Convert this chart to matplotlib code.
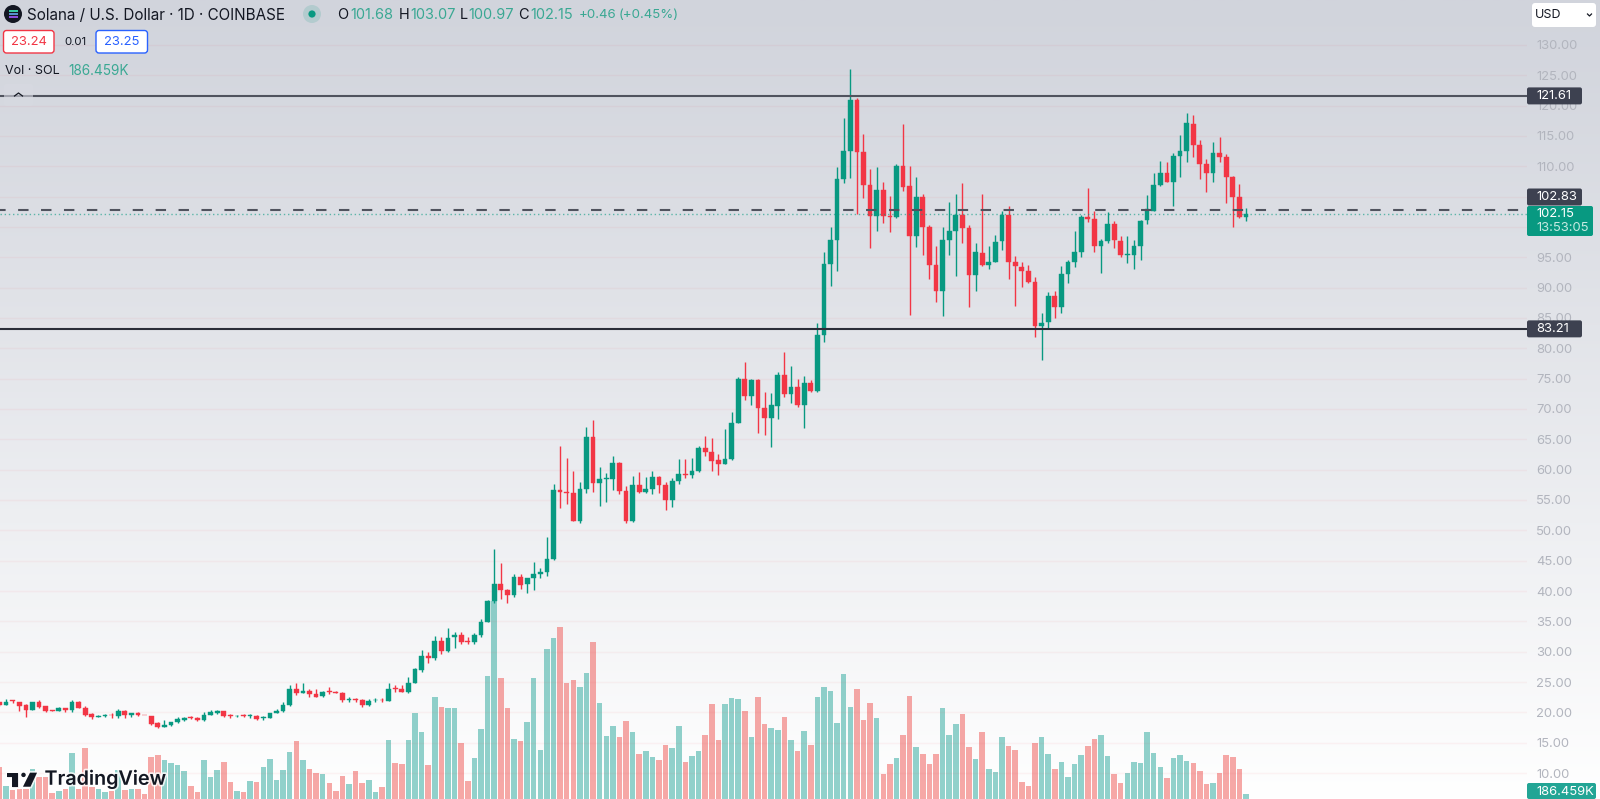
import matplotlib
matplotlib.use('Agg')
import matplotlib.pyplot as plt
import matplotlib.patches as patches
import matplotlib.patheffects as path_effects
import numpy as np

## Daily candles, oldest first.
opens = [
  21.65, 21.21, 21.98, 21.76, 21.16, 20.39, 21.71, 20.99, 20.39, 20.28,
  20.72, 20.39, 21.76, 20.77, 19.67, 19.23, 19.40, 19.62, 19.40, 20.17,
  19.51, 19.84, 19.62, 19.40, 18.19, 17.64, 17.86, 18.35, 18.79, 19.23,
  19.07, 18.79, 19.56, 19.95, 20.22, 19.51, 19.40, 19.51, 19.40, 19.34,
  19.07, 19.07, 19.95, 20.17, 21.27, 23.79, 23.19, 23.57, 23.02, 22.64,
  23.46, 23.41, 23.19, 21.98, 22.20, 21.98, 21.21, 21.98, 22.09, 21.87,
  24.07, 23.85, 23.35, 24.89, 26.98, 29.29, 28.90, 31.76, 30.06, 32.37,
  32.70, 31.82, 31.60, 32.70, 34.89, 38.30, 41.10, 40.17, 39.40, 42.37,
  41.16, 42.09, 42.86, 43.14, 45.30, 56.60, 56.38, 56.16, 51.54, 56.76,
  65.44, 57.75, 58.52, 58.47, 61.05, 56.54, 51.54, 57.53, 56.38, 56.82,
  58.74, 57.53, 55.00, 58.14, 59.35, 59.18, 59.73, 63.63, 62.97, 61.60,
  60.94, 61.71, 67.75, 74.90, 72.20, 74.84, 70.10, 68.47, 70.56, 75.67,
  72.42, 73.58, 70.66, 74.35, 73.00, 82.14, 93.85, 97.86, 107.86, 112.53,
  120.94, 112.42, 106.87, 101.81, 106.10, 101.81, 101.59, 110.00, 106.76, 98.46,
  104.95, 99.95, 93.74, 89.45, 97.91, 99.28, 101.98, 99.83, 92.03, 95.77,
  93.74, 94.23, 97.69, 101.98, 94.23, 93.46, 92.75, 90.98, 83.62, 84.28,
  88.67, 86.75, 92.19, 94.17, 95.87, 101.59, 101.26, 96.81, 97.69, 100.43,
  97.69, 95.43, 95.38, 96.81, 101.09, 102.69, 106.86, 108.90, 107.41, 111.64,
  112.52, 117.03, 113.57, 110.38, 108.90, 112.14, 111.53, 108.29, 104.94, 101.68,
]
highs = [
  21.75, 22.15, 22.09, 21.76, 21.38, 21.76, 22.03, 21.05, 20.42, 20.88,
  20.77, 22.03, 21.93, 20.99, 19.89, 19.62, 19.67, 19.95, 20.61, 20.39,
  19.95, 20.11, 19.62, 19.40, 18.41, 18.68, 18.46, 19.18, 19.29, 19.45,
  19.18, 20.06, 20.39, 20.44, 20.28, 19.73, 19.62, 19.73, 19.78, 19.56,
  19.45, 19.95, 20.50, 21.76, 24.56, 24.78, 24.78, 23.90, 23.90, 23.57,
  24.12, 23.57, 23.30, 22.47, 22.42, 22.14, 22.20, 22.31, 22.31, 24.78,
  24.51, 24.45, 25.77, 27.31, 30.28, 30.00, 32.59, 32.48, 33.90, 33.25,
  33.25, 32.48, 33.14, 35.33, 38.52, 46.93, 44.62, 40.28, 42.81, 42.81,
  42.20, 44.73, 43.80, 48.85, 57.70, 63.96, 61.87, 59.84, 57.92, 67.09,
  68.19, 60.50, 59.40, 62.26, 61.32, 57.37, 58.96, 59.62, 58.74, 59.78,
  59.02, 58.03, 58.69, 61.76, 61.71, 61.93, 63.91, 65.55, 65.22, 62.59,
  66.65, 69.46, 75.23, 77.75, 74.90, 74.95, 72.86, 72.64, 76.10, 79.35,
  77.15, 74.95, 75.45, 74.80, 84.12, 95.93, 99.95, 109.95, 117.91, 125.99,
  121.32, 115.28, 109.56, 109.95, 107.36, 105.11, 110.39, 116.92, 110.06, 108.19,
  105.38, 100.33, 96.87, 99.95, 104.07, 105.38, 107.25, 100.33, 97.42, 105.38,
  96.87, 98.68, 102.64, 103.46, 95.27, 94.18, 93.73, 91.81, 85.76, 89.33,
  89.50, 93.62, 94.55, 99.39, 101.97, 106.37, 102.63, 97.96, 102.47, 101.04,
  98.51, 98.51, 97.85, 101.10, 105.21, 108.84, 110.93, 110.71, 112.14, 115.16,
  118.73, 118.46, 114.28, 111.15, 113.95, 114.83, 112.03, 108.40, 107.03, 103.07,
]
lows = [
  21.10, 21.20, 21.60, 20.28, 19.29, 20.33, 20.66, 20.00, 20.25, 20.22,
  20.00, 20.06, 20.66, 19.45, 18.96, 19.18, 19.23, 19.12, 19.12, 19.12,
  19.29, 19.34, 19.51, 17.91, 17.36, 17.58, 17.69, 18.24, 18.63, 18.85,
  18.63, 18.63, 19.51, 19.78, 19.18, 19.12, 19.18, 19.23, 19.01, 18.79,
  18.79, 19.01, 19.89, 20.06, 21.05, 22.86, 23.13, 22.58, 22.53, 22.58,
  23.02, 23.13, 21.65, 21.76, 21.65, 20.94, 21.10, 21.76, 21.76, 21.81,
  23.41, 23.30, 23.13, 24.78, 26.60, 28.19, 28.68, 29.56, 30.00, 30.66,
  31.27, 31.32, 31.32, 32.48, 34.84, 37.97, 38.63, 38.03, 38.96, 40.28,
  39.62, 40.11, 42.20, 42.47, 45.10, 53.63, 54.40, 51.54, 51.27, 56.21,
  56.38, 54.07, 54.73, 56.65, 56.00, 51.27, 51.43, 56.10, 56.16, 55.94,
  56.10, 53.36, 53.85, 57.64, 58.63, 58.63, 59.67, 62.26, 59.78, 59.13,
  60.88, 61.60, 67.70, 71.50, 70.61, 66.00, 65.72, 63.69, 68.30, 71.93,
  71.05, 70.39, 66.93, 72.80, 72.80, 81.10, 90.27, 92.80, 107.31, 108.02,
  102.09, 104.73, 96.59, 99.34, 100.71, 99.23, 101.54, 105.99, 85.49, 96.76,
  95.38, 91.48, 87.64, 85.38, 95.38, 91.98, 97.42, 86.76, 89.45, 93.63,
  93.08, 94.18, 96.20, 91.37, 86.98, 90.11, 90.71, 81.92, 78.07, 83.29,
  85.00, 85.76, 90.71, 93.46, 95.10, 100.87, 95.87, 92.47, 97.41, 96.48,
  95.10, 94.11, 93.07, 94.61, 100.49, 102.63, 106.75, 107.36, 103.46, 108.24,
  110.65, 111.59, 107.96, 105.71, 107.47, 110.76, 104.01, 100.05, 101.42, 100.97,
]
closes = [
  21.21, 21.76, 21.82, 21.05, 20.44, 21.71, 20.94, 20.28, 20.28, 20.77,
  20.44, 21.76, 20.72, 19.62, 19.23, 19.45, 19.51, 19.51, 20.17, 19.56,
  19.89, 19.56, 19.51, 18.13, 17.64, 17.86, 18.35, 18.85, 19.12, 19.07,
  18.74, 19.56, 20.06, 20.28, 19.45, 19.40, 19.45, 19.40, 19.51, 18.90,
  19.18, 19.89, 20.28, 21.27, 23.79, 23.24, 23.57, 22.97, 22.58, 23.41,
  23.35, 23.19, 22.03, 22.25, 21.98, 21.27, 21.81, 22.09, 21.98, 23.85,
  23.85, 23.41, 24.84, 27.09, 29.29, 28.96, 31.82, 30.06, 32.31, 32.75,
  31.65, 31.60, 32.70, 34.89, 38.41, 41.10, 40.22, 39.40, 42.37, 41.05,
  42.15, 42.86, 43.14, 45.22, 56.65, 56.27, 56.21, 51.54, 56.82, 65.44,
  57.75, 58.47, 58.63, 61.05, 56.49, 51.54, 57.53, 56.38, 56.82, 58.74,
  57.53, 55.00, 58.19, 59.24, 59.18, 59.78, 63.63, 62.92, 61.49, 60.94,
  61.76, 67.75, 74.95, 72.20, 74.84, 70.10, 68.47, 70.61, 75.67, 72.48,
  73.58, 70.66, 74.35, 72.97, 82.20, 93.90, 97.86, 107.86, 112.53, 120.94,
  112.42, 106.87, 101.81, 106.10, 101.81, 101.65, 110.00, 106.65, 98.57, 104.95,
  100.00, 93.79, 89.45, 97.86, 99.40, 101.98, 99.89, 92.03, 95.82, 93.74,
  94.23, 97.58, 101.98, 94.28, 93.57, 92.80, 90.93, 83.73, 84.22, 88.67,
  86.75, 92.19, 94.17, 95.93, 101.64, 101.31, 96.81, 97.74, 100.43, 97.85,
  95.32, 95.49, 96.86, 101.04, 102.91, 106.92, 108.95, 107.41, 111.70, 112.52,
  117.08, 113.57, 110.32, 108.90, 112.14, 111.48, 108.24, 104.99, 101.60, 102.15,
]
## Volume, in thousands of SOL.
volumes = [
  1140, 460, 307, 342, 354, 1070, 788, 776, 201, 295,
  354, 1621, 342, 1809, 436, 342, 260, 272, 1023, 318,
  342, 366, 190, 1480, 1550, 1363, 1269, 1187, 976, 460,
  248, 1375, 776, 1023, 1292, 589, 295, 248, 624, 600,
  1128, 1421, 659, 1023, 1656, 2055, 1375, 1070, 917, 894,
  553, 295, 823, 542, 976, 553, 683, 260, 424, 2090,
  1281, 1234, 2090, 3028, 2348, 1187, 3580, 3228, 3193, 3193,
  1961, 636, 1457, 2454, 4319, 6970, 4260, 3193, 2114, 2043,
  2724, 4260, 1727, 5281, 5668, 6043, 4072, 4201, 3932, 4448,
  5527, 3380, 2231, 2559, 2196, 2735, 2348, 1597, 1680, 1480,
  1375, 1902, 1785, 2559, 1316, 1515, 1703, 2254, 3333, 2067,
  3333, 3545, 3521, 3111, 2172, 3580, 2641, 2489, 2419, 2888,
  2090, 1703, 2407, 1902, 3580, 3932, 3802, 2688, 4412, 3239,
  3861, 2794, 3368, 2840, 893, 1222, 1433, 2254, 3626, 1820,
  1597, 1233, 1574, 3216, 2254, 2641, 2981, 1820, 1421, 2348,
  1069, 952, 2172, 1855, 1726, 600, 448, 1961, 2195, 1574,
  1046, 1316, 787, 1233, 1538, 1867, 2101, 2242, 1503, 870,
  577, 905, 1316, 1257, 2348, 1609, 1128, 741, 1433, 1538,
  1339, 1269, 987, 530, 577, 928, 1538, 1468, 1069, 186.459,
]

price_ticks = list(range(10, 135, 5))
## These two sit behind the price tags on the scale.
hidden_ticks = [100, 105]
resistance = 121.61
midline = 102.83
support = 83.21
last_price = 102.15

GREEN = '#089981'
RED = '#f23645'
TEAL_TEXT = '#3aa893'
FONT = 'Inter'

## Setup figure, 1 data pixel per display pixel at this dpi.
fig = plt.figure(figsize=(16, 7.99), dpi=100)

## Background gradient runs behind everything, price scale included.
ax_bg = fig.add_axes([0, 0, 1, 1], zorder=0)
shade = np.linspace(0, 1, 400)[:, None, None]
top_color = np.array([209, 212, 220]) / 255.0
ax_bg.imshow(top_color + (1 - top_color) * shade ** 1.1, aspect='auto')
ax_bg.axis('off')

## Volume sits under the candles and shares their x axis.
pane = [0, 0, 1527 / 1600, 1]
ax_vol = fig.add_axes(pane, zorder=1)
ax_vol.patch.set_visible(False)
ax = fig.add_axes(pane, zorder=2, sharex=ax_vol)
ax.patch.set_visible(False)

x = np.arange(len(closes))
o = np.array(opens)
c = np.array(closes)
is_up = c >= o
candle_colors = [GREEN if up else RED for up in is_up]
volume_colors = ['#26a69a' if up else '#ef5350' for up in is_up]

ax_vol.bar(x, volumes, width=0.84, color=volume_colors, alpha=0.5, linewidth=0)
ax_vol.set_ylim(0, 799 * 35.2)
ax_vol.axis('off')

## Grid first, then wicks, then bodies.
for tick in price_ticks:
  ax.axhline(tick, color=RED, alpha=0.05, linewidth=1, zorder=1)
ax.vlines(x, lows, highs, colors=candle_colors, linewidth=1, zorder=3)
ax.bar(x, np.abs(c - o), bottom=np.minimum(o, c), width=0.72,
       color=candle_colors, linewidth=0.3, edgecolor=candle_colors, zorder=4)

## Horizontal levels.
ax.axhline(resistance, color='#50535e', linewidth=1.5, zorder=5)
ax.axhline(support, color='#2a2e39', linewidth=1.5, zorder=5)
ax.axhline(midline, color='#50535e', linewidth=1.5, zorder=5,
           linestyle=(2.3, (5, 6)))
ax.axhline(last_price, color=GREEN, alpha=0.6, linewidth=1, zorder=5,
           linestyle=(0, (1, 2)))

ax.set_xlim(0.076, 231.6)
ax.set_ylim(10 - 26 / 6.067, 130 + 45 / 6.067)
ax.set_yticks(price_ticks)
ax.set_yticklabels(['' if t in hidden_ticks else '%.2f' % t for t in price_ticks])
ax.yaxis.tick_right()
ax.tick_params(axis='y', length=0, pad=6.5, labelsize=9.4,
               labelcolor='#b2b5be')
for label in ax.get_yticklabels():
  label.set_family(FONT)
ax.tick_params(axis='x', bottom=False, labelbottom=False)
for spine in ax.spines.values():
  spine.set_visible(False)

## Everything else is screen furniture, drawn in pixel coordinates.
ax_ui = fig.add_axes([0, 0, 1, 1], zorder=5)
ax_ui.set_xlim(0, 1600)
ax_ui.set_ylim(799, 0)
ax_ui.axis('off')

def price_y(price):
  return 799 - ax.transData.transform((0, price))[1]

def ui_text(px, py, s, color='#131722', size=13, ha='left', **kwargs):
  ## va=center sits about a pixel high for this font.
  return ax_ui.text(px, py + 1, s, color=color, fontsize=size * 0.72, ha=ha,
                    va='center', family=FONT, **kwargs)

def ui_box(x0, y0, x1, y1, face, edge='none', radius=2, lw=1):
  box = patches.FancyBboxPatch((x0 + radius, y0 + radius),
                               x1 - x0 - 2 * radius, y1 - y0 - 2 * radius,
                               boxstyle='round,pad=%g' % radius, facecolor=face,
                               edgecolor=edge, linewidth=lw)
  ax_ui.add_patch(box)
  return box

def price_tag(center, s, right=1582, face='#3d4150'):
  ui_box(1527, center - 8.5, right, center + 8.5, face)
  ui_text(1536, center - 1, s, color='white')

## Price scale tags.
price_tag(price_y(resistance), '121.61')
price_tag(197, '102.83')
price_tag(price_y(support), '83.21')
ui_box(1527, 206, 1593, 236, GREEN)
ui_text(1536, 213, '102.15', color='white')
ui_text(1536, 227, '13:53:05', color='#c6e9e1')
ui_box(1527, 783, 1596, 799, '#22a595')
ui_text(1536, 791, '186.459K', color='white')

## Currency selector.
ui_box(1532, 3, 1596, 27, 'white', radius=3)
ui_text(1535, 14, 'USD', size=12.5)
ax_ui.plot([1587.5, 1589.5, 1591.5], [14, 16, 14], color='#131722', lw=0.9)

## Legend row, symbol icon first.
ax_ui.add_patch(patches.Circle((13, 14), 9, facecolor='#131722', edgecolor='none'))
for stripe_y, stripe_color in zip([11, 14, 17], ['#3fdcb0', '#5f9fe0', '#9a55f0']):
  ax_ui.plot([8.5, 17.5], [stripe_y, stripe_y], color=stripe_color, lw=1.3,
             solid_capstyle='butt')
ui_text(27, 14, 'Solana / U.S. Dollar \u00b7 1D \u00b7 COINBASE', size=15.2)
ax_ui.add_patch(patches.Circle((312, 14), 9, facecolor=GREEN, alpha=0.15,
                               edgecolor='none'))
ax_ui.add_patch(patches.Circle((312, 14), 3.6, facecolor=GREEN, edgecolor='none'))
for letter, value, letter_x, value_x in [('O', '101.68', 337, 350),
                                         ('H', '103.07', 399, 410),
                                         ('L', '100.97', 460, 468),
                                         ('C', '102.15', 518, 530)]:
  ui_text(letter_x, 14, letter, size=14.5)
  ui_text(value_x, 14, value, color=TEAL_TEXT, size=14.5)
ui_text(579, 14, '+0.46', color=TEAL_TEXT, size=13.3)
ui_text(619, 14, '(+0.45%)', color=TEAL_TEXT, size=13.3)

## Buy and sell boxes.
ui_box(3.5, 30.5, 54, 53, 'white', edge=RED, radius=3)
ui_text(29, 41, '23.24', color=RED, ha='center')
ui_text(75, 41, '0.01', size=11.5, ha='center')
ui_box(96, 30.5, 147.5, 53, 'white', edge='#2962ff', radius=3)
ui_text(122, 41, '23.25', color='#2962ff', ha='center')

## Volume legend and the collapse button.
ui_text(5, 70, 'Vol \u00b7 SOL', size=12.5)
ui_text(68, 70, '186.459K', color=TEAL_TEXT, size=13.6)
collapse = ui_box(4, 84, 33, 106, '#d8dae2', radius=3)
collapse.set_alpha(0.6)
ax_ui.plot([14.5, 18.5, 22.5], [96, 93, 96], color='#131722', lw=0.9)

## TradingView watermark.
halo = [path_effects.withStroke(linewidth=2.5, foreground='white', alpha=0.8)]
logo_parts = [
  patches.Polygon([(7, 772.7), (18.3, 772.7), (18.3, 786.7), (12.3, 786.7),
                   (12.3, 777), (7, 777)], facecolor='#131722', edgecolor='none'),
  patches.Circle((23.5, 774.9), 2.2, facecolor='#131722', edgecolor='none'),
  patches.Polygon([(30, 772.7), (37, 772.7), (30.5, 786.7), (23, 786.7)],
                  facecolor='#131722', edgecolor='none'),
]
for part in logo_parts:
  part.set_path_effects([path_effects.withStroke(linewidth=2.5, foreground='white',
                                                 alpha=0.8)])
  ax_ui.add_patch(part)
ui_text(44.5, 778.5, 'TradingView', size=19.7, weight='semibold',
        path_effects=halo)

fig.savefig('out.png', dpi=100)
